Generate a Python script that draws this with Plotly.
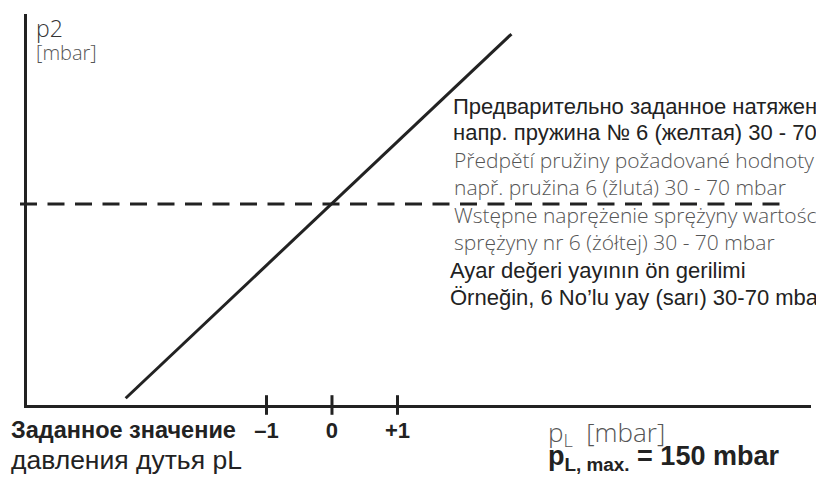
import plotly.graph_objects as go

# ---- data ----
line_x = [-3.15, 2.74]          # p_L (relative) of the characteristic line
line_y = [-2.966, 2.595]        # p2 (relative to setpoint)
setpoint_x = [-4.763, 6.92]     # dashed setpoint line extent
setpoint_y = [0, 0]
tick_vals = [-1, 0, 1]
tick_text = ["\u20131", "0", "+1"]

right_lines = [
    ("Предварительно заданное натяжение пружины", "dark"),
    ("напр. пружина № 6 (желтая) 30 - 70 mbar", "dark"),
    ("Předpětí pružiny požadované hodnoty", "light"),
    ("např. pružina 6 (žlutá) 30 - 70 mbar", "light"),
    ("Wstępne naprężenie sprężyny wartości zadanej", "light"),
    ("sprężyny nr 6 (żółtej) 30 - 70 mbar", "light"),
    ("Ayar değeri yayının ön gerilimi", "dark"),
    ("Örneğin, 6 No’lu yay (sarı) 30-70 mbar", "dark"),
]

W, H = 816, 486
ML, MR, MT, MB = 20, 5, 14, 81
PW, PH = W - ML - MR, H - MT - MB
DARK = "#222222"
GREY = "#555555"

def px(xp):
    return (xp - ML) / PW

def py(yp):
    return (H - MB - yp) / PH

fig = go.Figure()

fig.add_trace(go.Scatter(
    x=setpoint_x, y=setpoint_y, xaxis="x2", yaxis="y", mode="lines",
    line=dict(color=DARK, width=3, dash="17px,10.5px"), hoverinfo="skip",
))
fig.add_trace(go.Scatter(
    x=line_x, y=line_y, mode="lines",
    line=dict(color=DARK, width=3), hoverinfo="skip",
))
fig.add_trace(go.Scatter(
    x=tick_vals, y=[-3.069] * 3, mode="markers", cliponaxis=False,
    marker=dict(symbol="line-ns", size=14, line=dict(width=3, color=DARK), color=DARK),
    hoverinfo="skip",
))

FONT = "Liberation Sans, Arial, sans-serif"
LIGHT = "Open Sans, Liberation Sans, sans-serif"

annotations = []
centers = [106, 132, 160, 187, 215, 242, 270, 297]
starts = [451, 451, 452, 452, 452, 452, 448, 448]
for (txt, kind), c, s in zip(right_lines, centers, starts):
    if kind == "dark":
        f = dict(family=FONT, size=22, color=DARK)
    else:
        f = dict(family=LIGHT, size=21, color=GREY, weight=300)
    annotations.append(dict(
        text=txt, x=px(s), y=py(c), xref="paper", yref="paper",
        xanchor="left", yanchor="middle", showarrow=False, font=f,
    ))

annotations += [
    dict(text="p2", x=px(34), y=py(28), xref="paper", yref="paper",
         xanchor="left", yanchor="middle", showarrow=False,
         font=dict(family=LIGHT, size=23, color="#333333", weight=300)),
    dict(text="[mbar]", x=px(34), y=py(52), xref="paper", yref="paper",
         xanchor="left", yanchor="middle", showarrow=False,
         font=dict(family=LIGHT, size=20, color=GREY, weight=300)),
    dict(text="<b>Заданное значение</b>", x=px(9), y=py(430), xref="paper", yref="paper",
         xanchor="left", yanchor="middle", showarrow=False,
         font=dict(family=FONT, size=23.5, color=DARK)),
    dict(text="давления дутья pL", x=px(9), y=py(460), xref="paper", yref="paper",
         xanchor="left", yanchor="middle", showarrow=False,
         font=dict(family=FONT, size=26.5, color=DARK)),
    dict(text="p<sub>L</sub>  [mbar]", x=px(546), y=py(433), xref="paper", yref="paper",
         xanchor="left", yanchor="middle", showarrow=False,
         font=dict(family=LIGHT, size=26, color=GREY, weight=300)),
    dict(text="<b>p<sub>L, max.</sub> = 150 mbar</b>", x=px(546), y=py(458), xref="paper", yref="paper",
         xanchor="left", yanchor="middle", showarrow=False,
         font=dict(family=FONT, size=27, color=DARK)),
]

fig.update_layout(
    width=W, height=H,
    margin=dict(l=ML, r=MR, t=MT, b=MB),
    paper_bgcolor="white", plot_bgcolor="rgba(0,0,0,0)",
    showlegend=False,
    annotations=annotations,
    xaxis=dict(
        domain=[7 / PW, 1], range=[-4.656, 7.313], anchor="y",
        showline=True, linewidth=3, linecolor=DARK,
        showgrid=False, zeroline=False, ticks="",
        tickvals=tick_vals, ticktext=tick_text,
        tickfont=dict(family=FONT, size=22, color=DARK, weight="bold"),
        ticklabelstandoff=4,
    ),
    xaxis2=dict(
        domain=[0, 1], range=[-4.763, 7.313], anchor="y",
        visible=False, showgrid=False, zeroline=False,
    ),
    yaxis=dict(
        domain=[0, 1], range=[-3.069, 2.901], anchor="x",
        showline=True, linewidth=3, linecolor=DARK,
        showgrid=False, zeroline=False, ticks="", showticklabels=False,
    ),
)

fig.write_html("out.html", config={"displayModeBar": False},
               post_script="document.body.style.margin='0';")
